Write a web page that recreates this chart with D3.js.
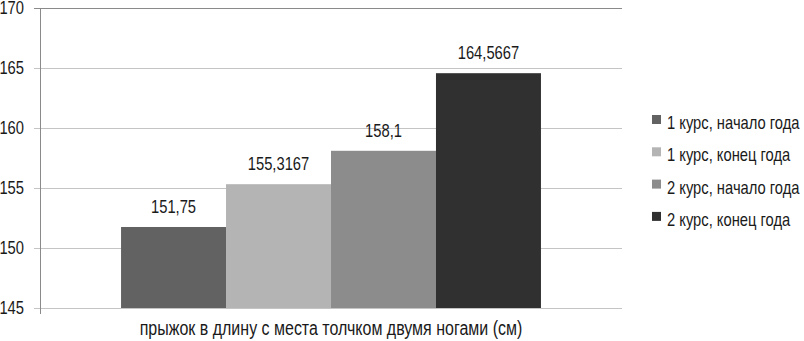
<!DOCTYPE html>
<html>
<head>
<meta charset="utf-8">
<script src="https://cdn.jsdelivr.net/npm/d3@7"></script>
<style>
  body { margin: 0; background: #fff; }
  text { font-family: "Liberation Sans", Arial, sans-serif; fill: #1a1a1a; }
</style>
</head>
<body>
<svg id="chart" width="804" height="341"></svg>
<script>
// series names and their values (one category)
const seriesNames = [
  "1 курс, начало года",
  "1 курс, конец года",
  "2 курс, начало года",
  "2 курс, конец года"
];
const seriesValues = [151.75, 155.3167, 158.1, 164.5667];
const seriesLabels = ["151,75", "155,3167", "158,1", "164,5667"];
const seriesColors = ["#626262", "#b4b4b4", "#8c8c8c", "#303030"];
const categoryName = "прыжок в длину с места толчком двумя ногами (см)";
const yTicks = [145, 150, 155, 160, 165, 170];

// the original uses a narrow sans; squeeze Liberation Sans horizontally
const squeeze = 0.82;

const svg = d3.select("#chart");
const margin = { top: 8, right: 182, bottom: 33, left: 40 };
const width = +svg.attr("width");
const height = +svg.attr("height");
const innerWidth = width - margin.left - margin.right;
const innerHeight = height - margin.top - margin.bottom;

const g = svg
  .append("g")
  .attr("transform", `translate(${margin.left},${margin.top})`);

const yScale = d3.scaleLinear().domain([145, 170]).range([innerHeight, 0]);

// outer band for the single category, inner band for the series
const xOuter = d3
  .scaleBand()
  .domain([categoryName])
  .range([0, innerWidth])
  .paddingOuter(0.193);
const xInner = d3
  .scaleBand()
  .domain(seriesNames)
  .range([xOuter(categoryName), xOuter(categoryName) + xOuter.bandwidth()]);

// grid + y axis
const yAxis = d3
  .axisLeft(yScale)
  .tickValues(yTicks)
  .tickSize(-innerWidth)
  .tickPadding(16)
  .tickFormat(d3.format("d"));

const yAxisG = g.append("g").call(yAxis);
yAxisG.select(".domain").remove();
yAxisG
  .selectAll(".tick line")
  .attr("x1", -6)
  .attr("stroke", "#c4c4c4");
yAxisG
  .selectAll(".tick text")
  .style("font-size", "18px")
  .style("font-family", "'Liberation Sans', Arial, sans-serif")
  .attr("fill", "#1a1a1a")
  .attr("x", -16 / squeeze)
  .attr("transform", `scale(${squeeze},1)`);
yAxisG
  .selectAll(".tick")
  .filter((d) => d === 170)
  .select("line")
  .attr("stroke", "#8a8a8a");

// vertical axis line
g.append("line")
  .attr("x1", 0.5)
  .attr("x2", 0.5)
  .attr("y1", 0)
  .attr("y2", innerHeight + 6)
  .attr("stroke", "#8a8a8a");

// bars
g.selectAll("rect.bar")
  .data(seriesValues)
  .enter()
  .append("rect")
  .attr("class", "bar")
  .attr("x", (d, i) => xInner(seriesNames[i]))
  .attr("y", (d) => yScale(d))
  .attr("width", xInner.bandwidth())
  .attr("height", (d) => innerHeight - yScale(d))
  .attr("fill", (d, i) => seriesColors[i]);

// value labels
g.selectAll("text.val")
  .data(seriesValues)
  .enter()
  .append("text")
  .attr("class", "val")
  .attr(
    "transform",
    (d, i) =>
      `translate(${xInner(seriesNames[i]) + xInner.bandwidth() / 2},${
        yScale(d) - 14
      }) scale(${squeeze},1)`
  )
  .attr("text-anchor", "middle")
  .style("font-size", "18px")
  .text((d, i) => seriesLabels[i]);

// category label
g.append("text")
  .attr(
    "transform",
    `translate(${xOuter(categoryName) + xOuter.bandwidth() / 2},${
      innerHeight + 27
    }) scale(${squeeze},1)`
  )
  .attr("text-anchor", "middle")
  .style("font-size", "19.5px")
  .text(categoryName);

// legend
const legend = svg
  .append("g")
  .attr("transform", "translate(652,115)");

const item = legend
  .selectAll("g")
  .data(seriesNames)
  .enter()
  .append("g")
  .attr("transform", (d, i) => `translate(0,${i * 32.3})`);

item
  .append("rect")
  .attr("width", 9)
  .attr("height", 9)
  .attr("fill", (d, i) => seriesColors[i]);

item
  .append("text")
  .attr("transform", `translate(15,14) scale(${squeeze},1)`)
  .style("font-size", "18px")
  .text((d) => d);
</script>
</body>
</html>
